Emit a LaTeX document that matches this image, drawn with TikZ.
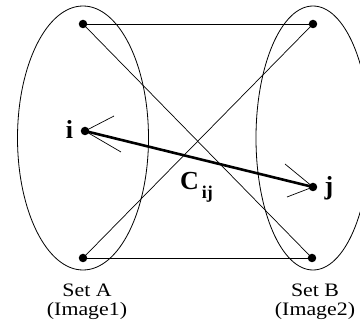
\documentclass[tikz,border=0pt]{standalone}
\usepackage{fontspec}
\setmainfont{Liberation Serif}
\newfontfamily\labelfont[FakeStretch=1.15]{Liberation Serif}
\begin{document}
\begin{tikzpicture}[x=1pt,y=-1pt,
  setline/.style={line width=0.8pt},
  thin/.style={line width=0.7pt},
  heavy/.style={line width=2.6pt},
  dot/.style={circle,fill=black,inner sep=0pt,minimum size=8.5pt},
  caption/.style={font=\labelfont\fontsize{19}{19}\selectfont,align=center,anchor=base,inner sep=0pt},
  vlabel/.style={font=\bfseries\fontsize{26}{26}\selectfont,anchor=base,inner sep=0pt}]
\useasboundingbox (0,0) rectangle (360,329);
% sets
\draw[setline] (83,138) ellipse [x radius=65.5, y radius=132];
\draw[setline] (313,138) ellipse [x radius=57, y radius=132];
% points
\node[dot] (tl) at (83,24) {};
\node[dot] (tr) at (313,24) {};
\node[dot] (bl) at (83,258) {};
\node[dot] (br) at (312,258) {};
\node[dot] (i) at (85,131) {};
\node[dot] (j) at (313,187) {};
% connectors
\draw[thin] (tl.center) -- (tr.center);
\draw[thin] (bl.center) -- (br.center);
\draw[thin] (tl.center) -- (br.center);
\draw[thin] (tr.center) -- (bl.center);
\draw[heavy] (i.center) -- (j.center);
% open heads
\coordinate (ia) at (114,116);
\coordinate (ib) at (121,152);
\coordinate (ja) at (285,164);
\coordinate (jb) at (287,197);
\draw[thin] (i.center) -- (ia);
\draw[thin] (i.center) -- (ib);
\draw[thin] (j.center) -- (ja);
\draw[thin] (j.center) -- (jb);
% labels
\node[vlabel] (li) at (69.5,139) {i};
\node[vlabel] (lj) at (329,195) {j};
\node[font=\bfseries\fontsize{26}{26}\selectfont,anchor=base west,inner sep=0pt] (cij) at (180,190) {C\raisebox{-9pt}{\fontsize{18}{18}\selectfont\,ij}};
\node[caption] (sa) at (87,315.5) {Set A\\(Image1)};
\node[caption] (sb) at (315,315.5) {Set B\\(Image2)};
\end{tikzpicture}
\end{document}
